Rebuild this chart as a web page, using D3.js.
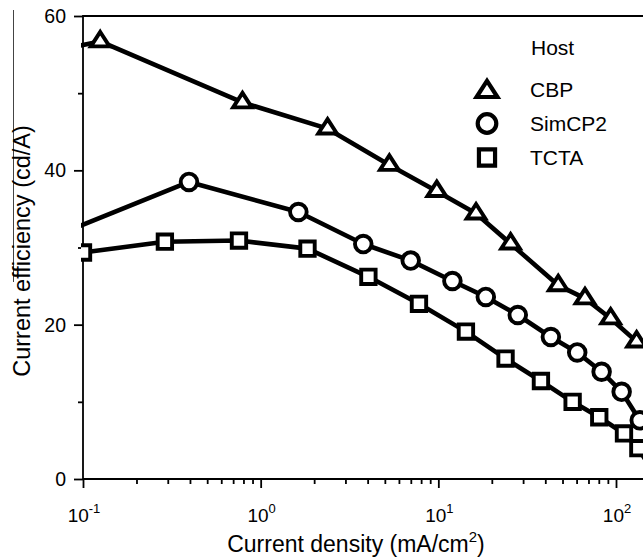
<!DOCTYPE html>
<html>
<head>
<meta charset="utf-8">
<script src="https://cdn.jsdelivr.net/npm/d3@7"></script>
<style>
  body { margin: 0; background: #fff; }
  text { font-family: "Liberation Sans", Arial, sans-serif; fill: #000; }
</style>
</head>
<body>
<script>
// Data (x = current density, y = current efficiency)
const cbpX = [0.08, 0.125, 0.79, 2.38, 5.3, 9.8, 16.3, 25.5, 47.3, 66.9, 93.3, 130.6];
const cbpY = [55.8, 56.7, 48.8, 45.4, 40.7, 37.3, 34.4, 30.5, 25.1, 23.4, 20.8, 17.8];

const simX = [0.07, 0.395, 1.63, 3.78, 6.99, 12.0, 18.5, 28.0, 43.0, 60.5, 83.0, 107.6, 136];
const simY = [31.5, 38.5, 34.6, 30.45, 28.3, 25.66, 23.6, 21.25, 18.4, 16.4, 13.9, 11.3, 7.6];

const tctaX = [0.1, 0.289, 0.755, 1.835, 4.04, 7.78, 14.3, 23.9, 37.8, 57.0, 80.5, 110.9, 133.6, 160];
const tctaY = [29.35, 30.75, 30.9, 29.85, 26.2, 22.7, 19.1, 15.6, 12.7, 10.0, 8.0, 5.9, 4.0, 1.0];

const hosts = ['CBP', 'SimCP2', 'TCTA'];
const shapes = ['triangle', 'circle', 'square'];

const xMajor = [0.1, 1, 10, 100];
const xExp = ['-1', '0', '1', '2'];
const yMajor = [0, 20, 40, 60];
const yMinor = [10, 30, 50];

var width = 643,
    height = 559;

// plot frame (avoid the name "top", it is window.top)
var padL = 83, padT = 16, padB = 479;

var x = d3.scaleLog().domain([0.1, 100]).range([padL, 616]);
var y = d3.scaleLinear().domain([0, 60]).range([padB, padT]);

var xMinor = [];
xMajor.forEach(function(d) {
  for (var k = 2; k <= 9; k++) xMinor.push(d * k);
});

var svg = d3.select('body').append('svg')
    .attr('width', width)
    .attr('height', height);

svg.append('rect').attr('width', width).attr('height', height).attr('fill', '#fff');

// stray thin line at the far left of the original figure
svg.append('line')
    .attr('x1', 13.5).attr('x2', 13.5)
    .attr('y1', 10).attr('y2', 282)
    .attr('stroke', '#444').attr('stroke-width', 1);

/******* Axes ********/
function tickAxis(axis, cls) {
  var g = svg.append('g').attr('class', cls).call(axis);
  g.select('.domain').remove();
  g.selectAll('text').remove();
  g.selectAll('line').attr('stroke', '#000').attr('stroke-width', 1.8);
  return g;
}

tickAxis(d3.axisBottom(x).tickValues(xMajor).tickSize(9), 'xmaj')
    .attr('transform', 'translate(0,' + padB + ')');
tickAxis(d3.axisBottom(x).tickValues(xMinor).tickSize(5), 'xmin')
    .attr('transform', 'translate(0,' + padB + ')');
tickAxis(d3.axisLeft(y).tickValues(yMajor).tickSize(9), 'ymaj')
    .attr('transform', 'translate(' + padL + ',0)');
tickAxis(d3.axisLeft(y).tickValues(yMinor).tickSize(5), 'ymin')
    .attr('transform', 'translate(' + padL + ',0)');

// axis frame: top, left and bottom lines
svg.append('path')
    .attr('d', 'M' + width + ',' + padT + 'H' + padL + 'V' + padB + 'H' + width)
    .attr('fill', 'none')
    .attr('stroke', '#000')
    .attr('stroke-width', 1.8);

// x tick labels: 10 with superscript exponent
var xl = svg.selectAll('.xlab')
    .data(xMajor)
    .enter()
    .append('text')
    .attr('class', 'xlab')
    .attr('x', function(d) { return x(d) + 1; })
    .attr('y', 522)
    .attr('text-anchor', 'middle')
    .style('font-size', '19px');
xl.append('tspan').text('10');
xl.append('tspan')
    .attr('dy', -9)
    .style('font-size', '13px')
    .text(function(d, i) { return xExp[i]; });

svg.selectAll('.ylab')
    .data(yMajor)
    .enter()
    .append('text')
    .attr('class', 'ylab')
    .attr('x', 66)
    .attr('y', function(d) { return y(d) + 7; })
    .attr('text-anchor', 'end')
    .style('font-size', '19.5px')
    .text(function(d) { return d; });

// axis titles
var xt = svg.append('text')
    .attr('x', 356)
    .attr('y', 552)
    .attr('text-anchor', 'middle')
    .style('font-size', '23px');
xt.append('tspan').text('Current density (mA/cm');
xt.append('tspan').attr('dy', -10).style('font-size', '15px').text('2');
xt.append('tspan').attr('dy', 10).text(')');

svg.append('text')
    .attr('transform', 'translate(30,251) rotate(-90)')
    .attr('text-anchor', 'middle')
    .style('font-size', '23.5px')
    .text('Current efficiency (cd/A)');

/******* Series ********/
svg.append('clipPath').attr('id', 'plot')
  .append('rect')
    .attr('x', 81).attr('y', 0)
    .attr('width', width - 81).attr('height', padB + 12);

var series = [
  { name: hosts[0], shape: shapes[0], xs: cbpX, ys: cbpY },
  { name: hosts[1], shape: shapes[1], xs: simX, ys: simY },
  { name: hosts[2], shape: shapes[2], xs: tctaX, ys: tctaY }
];

function markerPath(shape, s) {
  if (shape === 'triangle') {
    return 'M0,' + (-9.5 * s) + 'L' + (9.3 * s) + ',' + (4.9 * s) + 'L' + (-9.3 * s) + ',' + (4.9 * s) + 'Z';
  }
  if (shape === 'square') {
    var h = 7.2 * s;
    return 'M' + (-h) + ',' + (-h) + 'H' + h + 'V' + h + 'H' + (-h) + 'Z';
  }
  var r = 8.3 * s;
  return 'M' + r + ',0A' + r + ',' + r + ' 0 1,1 ' + (-r) + ',0A' + r + ',' + r + ' 0 1,1 ' + r + ',0Z';
}

var line = d3.line()
    .x(function(d) { return x(d[0]); })
    .y(function(d) { return y(d[1]); });

var plot = svg.append('g').attr('clip-path', 'url(#plot)');

series.forEach(function(s) {
  var pts = s.xs.map(function(v, i) { return [v, s.ys[i]]; });

  plot.append('path')
      .datum(pts)
      .attr('d', line)
      .attr('fill', 'none')
      .attr('stroke', '#000')
      .attr('stroke-width', 4.6)
      .attr('stroke-linejoin', 'round');

  plot.selectAll('.m-' + s.shape)
      .data(pts)
      .enter()
      .append('path')
      .attr('class', 'm-' + s.shape)
      .attr('transform', function(d) { return 'translate(' + x(d[0]) + ',' + y(d[1]) + ')'; })
      .attr('d', markerPath(s.shape, 1))
      .attr('fill', '#fff')
      .attr('stroke', '#000')
      .attr('stroke-width', 3.9);
});

/******* Legend ********/
svg.append('text')
    .attr('x', 531)
    .attr('y', 55)
    .style('font-size', '21px')
    .text('Host');

var leg = svg.selectAll('.leg')
    .data(series)
    .enter()
    .append('g')
    .attr('class', 'leg')
    .attr('transform', function(d, i) { return 'translate(0,' + (89.5 + i * 34) + ')'; });

leg.append('path')
    .attr('transform', function(d) { return 'translate(487,' + (d.shape === 'triangle' ? 2 : 0) + ')'; })
    .attr('d', function(d) { return markerPath(d.shape, 1.12); })
    .attr('fill', '#fff')
    .attr('stroke', '#000')
    .attr('stroke-width', 4.2);

leg.append('text')
    .attr('x', 530)
    .attr('y', 7.5)
    .style('font-size', '21px')
    .text(function(d) { return d.name; });
</script>
</body>
</html>
